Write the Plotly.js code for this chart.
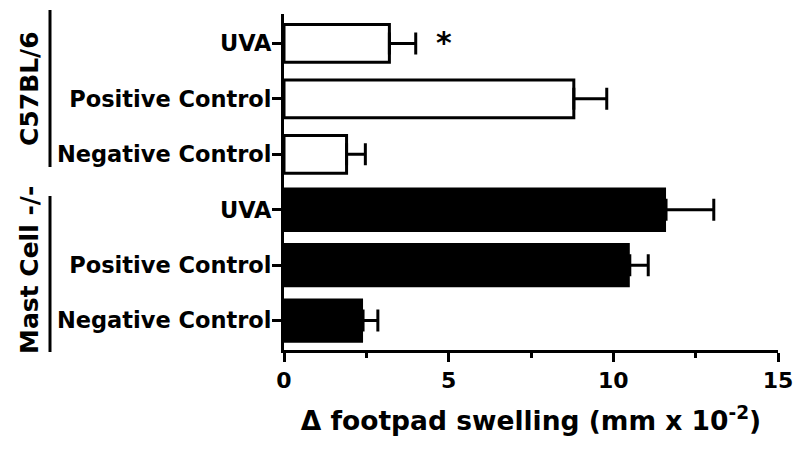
<!DOCTYPE html>
<html>
<head>
<meta charset="utf-8">
<script src="https://cdn.plot.ly/plotly-3.0.1.min.js"></script>
<style>html,body{margin:0;padding:0;background:#fff;}#chart{width:800px;height:449px;}</style>
</head>
<body>
<div id="chart"></div>
<script>
// Data
const categories = ["Negative Control", "Positive Control", "UVA"];
const groups = ["Mast Cell -/-", "C57BL/6"];
const c57Means = [1.9, 8.8, 3.2];
const c57Err = [0.57, 1.0, 0.8];
const mastMeans = [2.4, 10.5, 11.6];
const mastErr = [0.45, 0.56, 1.45];
const xTicks = [0, 5, 10, 15];
const xTitle = "\u0394 footpad swelling (mm x 10<sup>-2</sup>)";

const FONT = "DejaVu Sans";
const mastPos = categories.map((c, i) => i);
const c57Pos = categories.map((c, i) => i + categories.length);
const tickVals = mastPos.concat(c57Pos);
const tickText = categories.concat(categories);

const traces = [
  {
    type: "bar", orientation: "h",
    x: mastMeans, y: mastPos, width: 0.8,
    marker: {color: "#000", line: {color: "#000", width: 0}},
    error_x: {type: "data", array: mastErr, arrayminus: mastErr.map(() => 0), symmetric: false,
              color: "#000", thickness: 3, width: 11},
    hoverinfo: "none", showlegend: false
  },
  {
    type: "bar", orientation: "h",
    x: c57Means, y: c57Pos, width: 0.68,
    marker: {color: "#fff", line: {color: "#000", width: 3}},
    error_x: {type: "data", array: c57Err, arrayminus: c57Err.map(() => 0), symmetric: false,
              color: "#000", thickness: 3, width: 11},
    hoverinfo: "none", showlegend: false
  }
];

const L = 284, R = 22, T = 14, B = 99, W = 800, H = 449;
const pw = W - L - R, ph = H - T - B;
const px = v => (v - L) / pw;
const py = v => 1 - (v - T) / ph;

const layout = {
  width: W, height: H,
  margin: {l: L, r: R, t: T, b: B, pad: 0},
  paper_bgcolor: "#fff", plot_bgcolor: "#fff",
  bargap: 0.2,
  font: {family: FONT, color: "#000", weight: 700},
  xaxis: {
    range: [0, 15], tickvals: xTicks, ticktext: xTicks.map(String),
    showline: true, linecolor: "#000", linewidth: 3, mirror: false,
    ticks: "outside", ticklen: 9, tickwidth: 3, tickcolor: "#000",
    minor: {ticks: "outside", dtick: 2.5, tick0: 0, ticklen: 5, tickwidth: 3, tickcolor: "#000"},
    showgrid: false, zeroline: false,
    tickfont: {family: FONT, size: 22, color: "#000", weight: 700},
    title: {text: xTitle, font: {family: FONT, size: 26.5, color: "#000", weight: 700}, standoff: 20}
  },
  yaxis: {
    range: [-0.53, 5.53], tickvals: tickVals, ticktext: tickText,
    showline: true, linecolor: "#000", linewidth: 3,
    ticks: "outside", ticklen: 9, tickwidth: 3, tickcolor: "#000",
    showgrid: false, zeroline: false,
    tickfont: {family: FONT, size: 22.5, color: "#000", weight: 700},
    ticklabelstandoff: -4
  },
  shapes: [
    {type: "line", xref: "paper", yref: "paper", x0: px(50), x1: px(50), y0: py(10), y1: py(167),
     line: {color: "#000", width: 3}},
    {type: "line", xref: "paper", yref: "paper", x0: px(50), x1: px(50), y0: py(196), y1: py(352),
     line: {color: "#000", width: 3}}
  ],
  annotations: [
    {xref: "paper", yref: "paper", x: px(29), y: py(88), text: groups[1], textangle: -90, showarrow: false,
     font: {family: FONT, size: 25, color: "#000", weight: 700}, xanchor: "center", yanchor: "middle"},
    {xref: "paper", yref: "paper", x: px(29), y: py(270), text: groups[0], textangle: -90, showarrow: false,
     font: {family: FONT, size: 25, color: "#000", weight: 700}, xanchor: "center", yanchor: "middle"},
    {xref: "x", yref: "y", x: 4.85, y: 5, text: "*", showarrow: false, yshift: 1,
     font: {family: FONT, size: 30, color: "#000", weight: 700}, xanchor: "center", yanchor: "middle"}
  ]
};

Plotly.newPlot("chart", traces, layout, {staticPlot: true, displayModeBar: false});
</script>
</body>
</html>
